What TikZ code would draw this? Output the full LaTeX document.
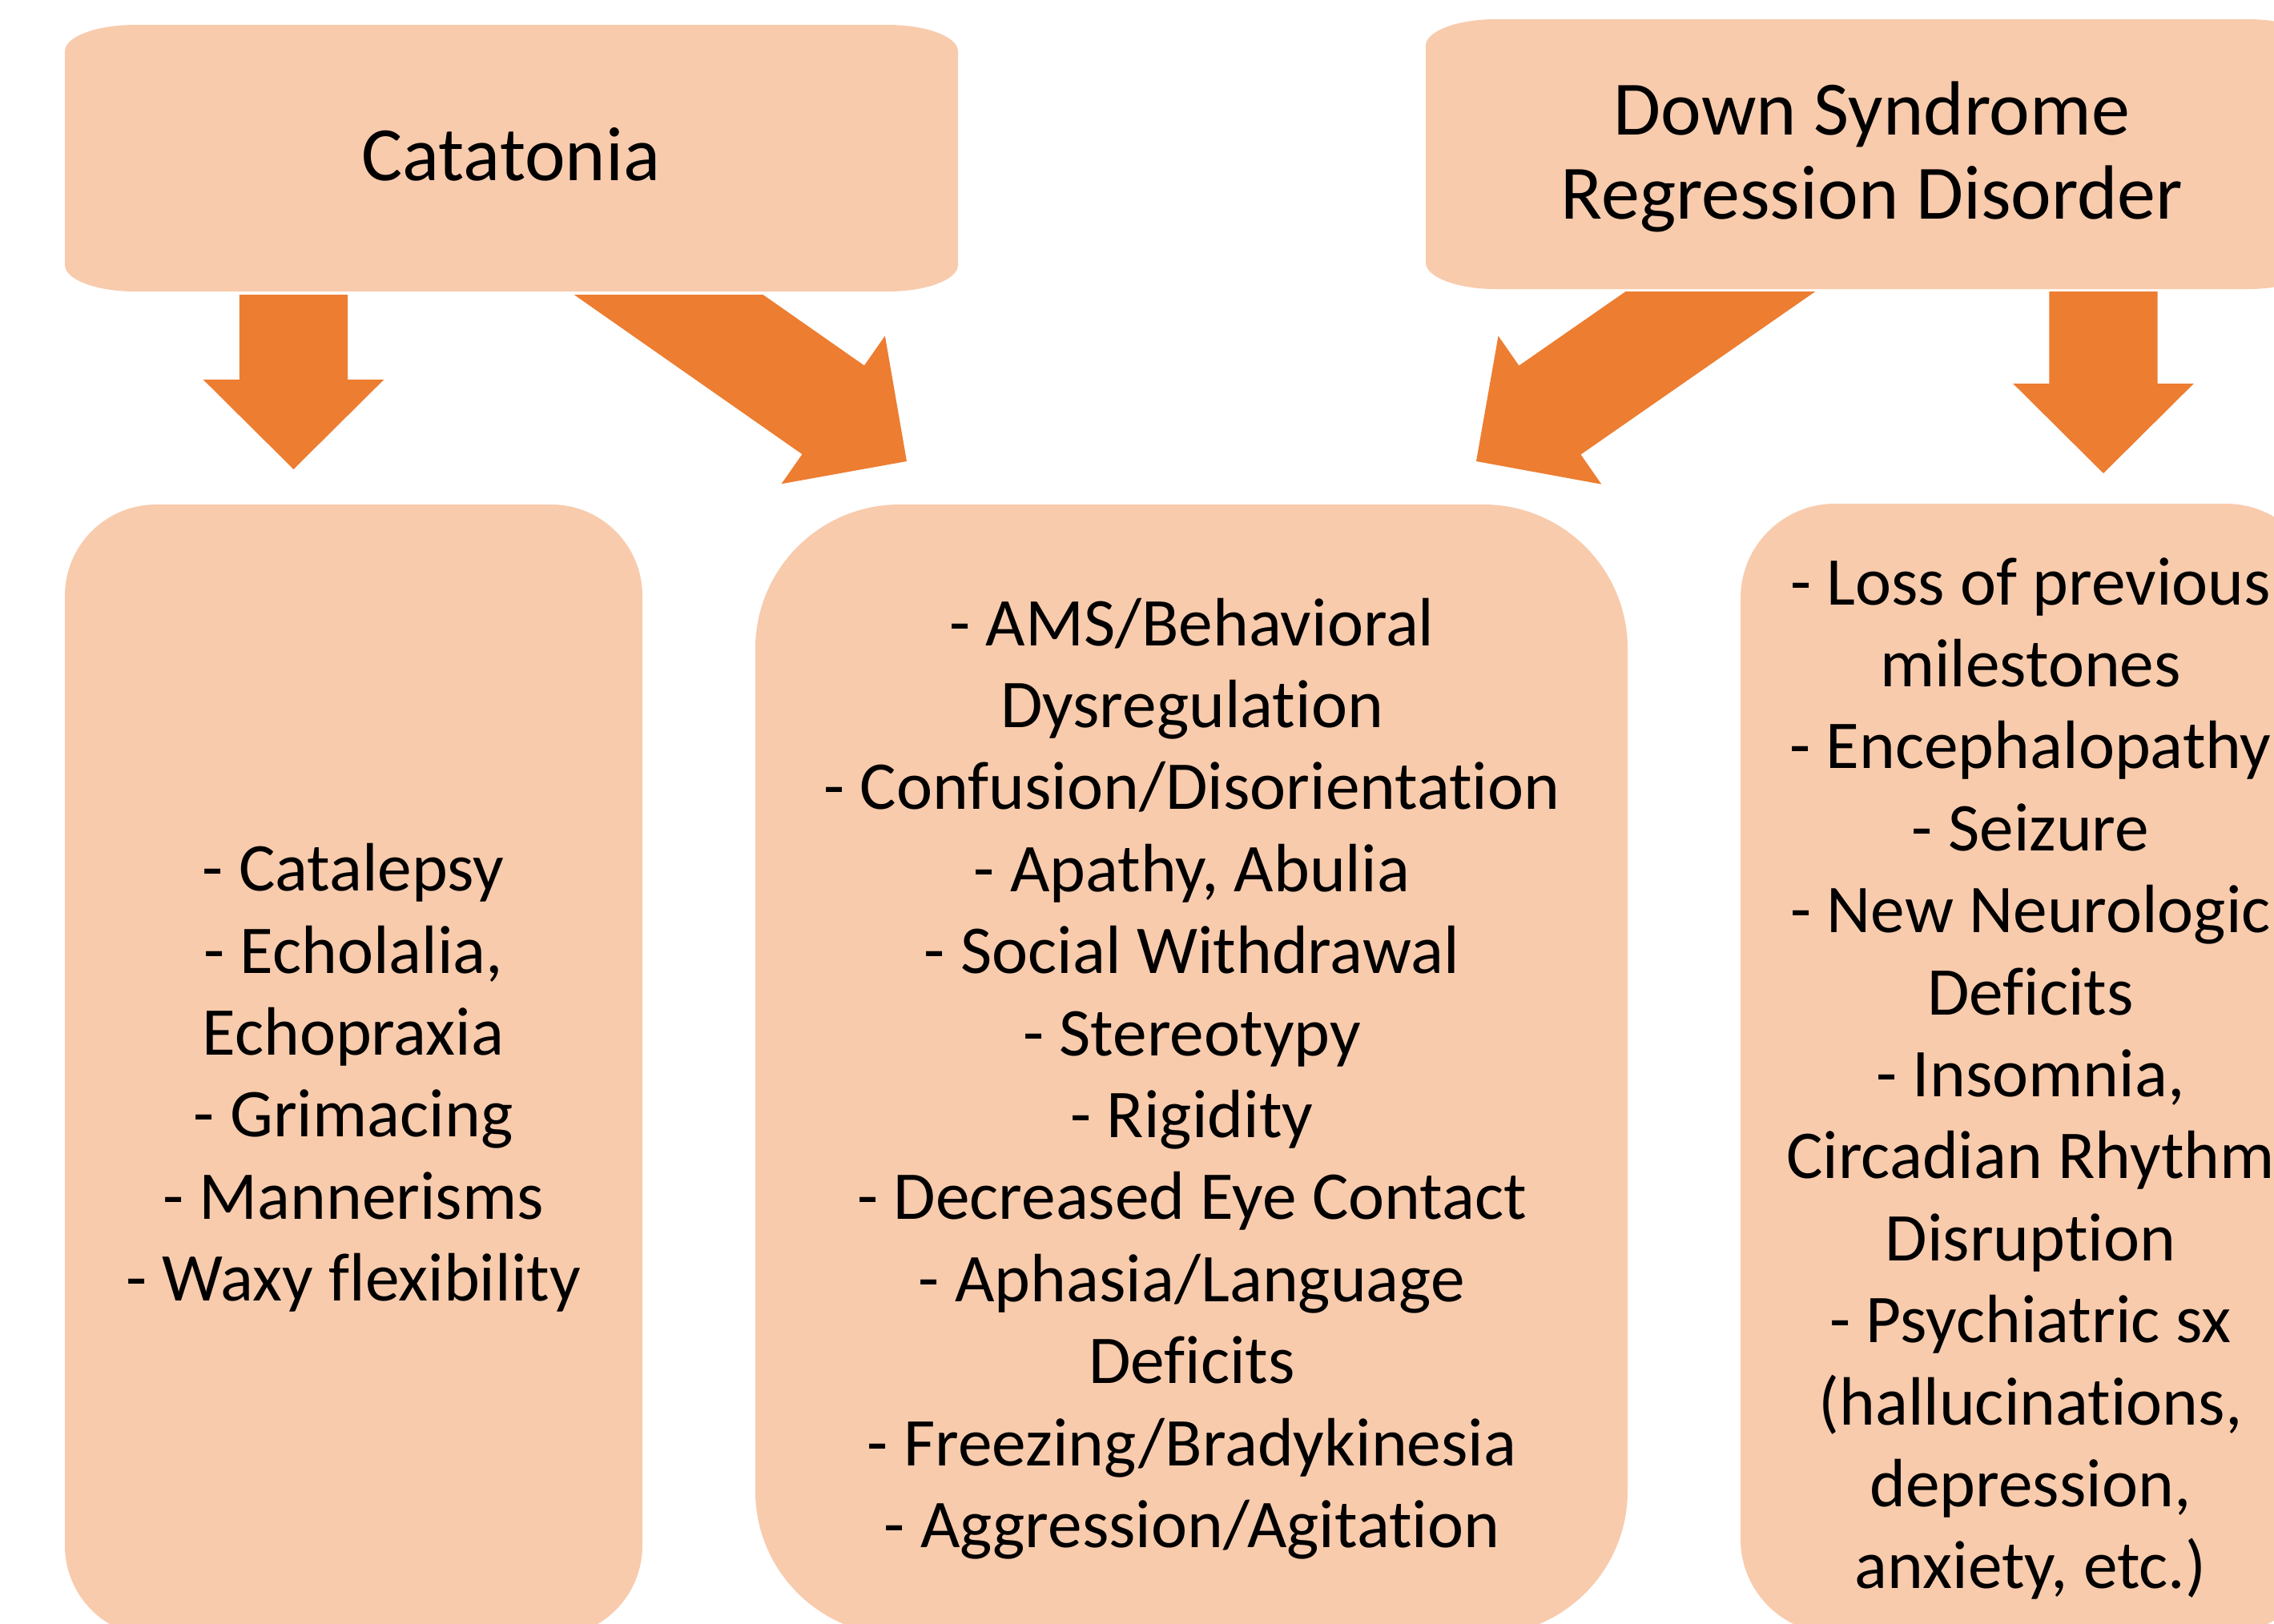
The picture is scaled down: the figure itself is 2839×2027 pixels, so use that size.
\documentclass[tikz,border=0pt]{standalone}
\usepackage{fontspec}
\setmainfont{Carlito}[Ligatures=NoCommon]
\usetikzlibrary{calc}
\definecolor{peach}{HTML}{F8CBAD}
\definecolor{orangeA}{HTML}{ED7D31}
\tikzset{
  hdrtext/.style={align=center,inner sep=0pt,font=\fontsize{24}{26.3}\selectfont},
  bodytext/.style={align=center,inner sep=0pt,font=\fontsize{21.35}{25.6}\selectfont},
  boxfill/.style={fill=peach},
  arrowfill/.style={fill=orangeA}
}
% header box with elliptical corners (rx=88, ry=33)
\newcommand\hdrbox[4]{%
  \fill[boxfill] (#1,#2+33) .. controls (#1,#2+15) and (#1+39,#2) .. (#1+88,#2)
    -- (#3-88,#2) .. controls (#3-39,#2) and (#3,#2+15) .. (#3,#2+33)
    -- (#3,#4-33) .. controls (#3,#4-15) and (#3-39,#4) .. (#3-88,#4)
    -- (#1+88,#4) .. controls (#1+39,#4) and (#1,#4-15) .. (#1,#4-33) -- cycle;}
% block arrow from coordinate #1 to tip coordinate #2
\newcommand\blockarr[2]{%
  \coordinate (H) at ($(#2)!28pt!(#1)$);
  \fill[arrowfill] ($(#1)!16.9pt!90:(#2)$) -- ($(H)!16.9pt!-90:(#1)$)
    -- ($(H)!28.2pt!-90:(#1)$) -- (#2) -- ($(H)!28.2pt!90:(#1)$)
    -- ($(H)!16.9pt!90:(#1)$) -- ($(#1)!16.9pt!-90:(#2)$) -- cycle;}
\begin{document}
\begin{tikzpicture}[x=0.25pt,y=-0.25pt]
\useasboundingbox (0,0) rectangle (2839,2027);
\fill[white] (0,0) rectangle (2839,2027);
\clip (0,0) rectangle (2839,2027);

% arrow end points
\coordinate (a1s) at (366.5,368);
\coordinate (a1t) at (366.5,586);
\coordinate (a2s) at (746,306);
\coordinate (a2t) at (1132,576);
\coordinate (a3s) at (2240,300);
\coordinate (a3t) at (1843,576);
\coordinate (a4s) at (2626,364);
\coordinate (a4t) at (2626,591);

% arrows
\blockarr{a1s}{a1t}
\begin{scope}
  \clip (0,368) rectangle (1500,2027);
  \blockarr{a2s}{a2t}
\end{scope}
\begin{scope}
  \clip (1500,364) rectangle (2839,2027);
  \blockarr{a3s}{a3t}
\end{scope}
\blockarr{a4s}{a4t}

% header boxes
\hdrbox{81}{31}{1196}{364}
\hdrbox{1780}{24}{2894}{361}

% lower boxes
\fill[boxfill,rounded corners=28.5pt] (81,630) rectangle (802,2044);
\fill[boxfill,rounded corners=45pt] (943,630) rectangle (2032,2042);
\fill[boxfill,rounded corners=29.5pt] (2173,629) rectangle (2897,2040);

% texts
\node[hdrtext] (cat) at (638,193) {Catatonia};
\node[hdrtext] (dsrd) at (2337,196) {Down Syndrome\\Regression Disorder};

\node[bodytext] (lbody) at (441,1346) {- Catalepsy\\- Echolalia,\\Echopraxia\\- Grimacing\\- Mannerisms\\- Waxy flexibility};
\node[bodytext] (mbody) at (1488,1347) {- AMS/Behavioral\\Dysregulation\\- Confusion/Disorientation\\- Apathy, Abulia\\- Social Withdrawal\\- Stereotypy\\- Rigidity\\- Decreased Eye Contact\\- Aphasia/Language\\Deficits\\- Freezing/Bradykinesia\\- Aggression/Agitation};
\node[bodytext] (rbody) at (2535,1347) {- Loss of previous\\milestones\\- Encephalopathy\\- Seizure\\- New Neurologic\\Deficits\\- Insomnia,\\Circadian Rhythm\\Disruption\\- Psychiatric sx\\(hallucinations,\\depression,\\anxiety, etc.)};
\end{tikzpicture}
\end{document}
